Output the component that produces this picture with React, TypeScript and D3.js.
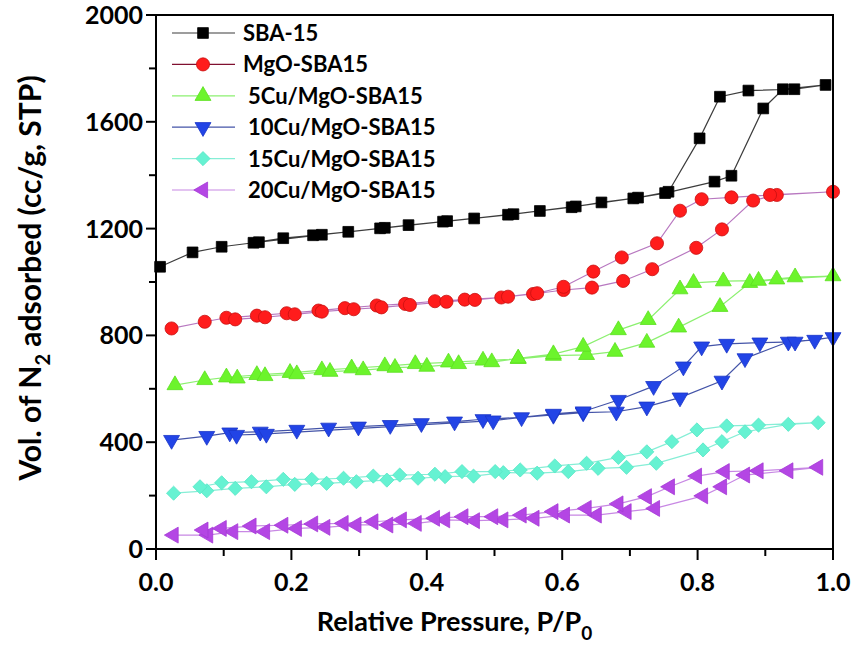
import * as d3 from 'd3';

// N2 adsorption / desorption isotherms.
// Each series: adsorption branch (rising P/P0) then desorption branch (falling P/P0).
const sba15: [number, number][] = [
  [0.006, 1057], [0.054, 1111], [0.097, 1132], [0.144, 1147], [0.188, 1164], [0.232, 1175],
  [0.284, 1188], [0.331, 1201], [0.373, 1213], [0.424, 1226], [0.47, 1238], [0.52, 1252],
  [0.567, 1266], [0.614, 1280], [0.658, 1298], [0.705, 1313], [0.752, 1333], [0.825, 1376],
  [0.85, 1398], [0.897, 1650], [0.926, 1722], [0.989, 1738],
  [0.943, 1722], [0.875, 1717], [0.833, 1694], [0.803, 1538], [0.757, 1338], [0.712, 1316],
  [0.62, 1283], [0.528, 1254], [0.43, 1228], [0.338, 1203], [0.245, 1177], [0.152, 1149],
];

const mgoSba15: [number, number][] = [
  [0.023, 826], [0.072, 851], [0.104, 866], [0.149, 874], [0.193, 883], [0.24, 893],
  [0.279, 902], [0.326, 912], [0.368, 918], [0.412, 928], [0.456, 934], [0.51, 942],
  [0.557, 955], [0.602, 970], [0.644, 979], [0.69, 1004], [0.733, 1048], [0.798, 1128],
  [0.836, 1197], [0.882, 1305], [0.917, 1326], [1.0, 1338],
  [0.907, 1326], [0.85, 1317], [0.806, 1310], [0.774, 1267], [0.74, 1145], [0.688, 1092],
  [0.646, 1039], [0.602, 982], [0.563, 958], [0.52, 945], [0.471, 933], [0.429, 926],
  [0.375, 914], [0.333, 905], [0.292, 898], [0.245, 889], [0.205, 879], [0.161, 868], [0.117, 860],
];

const cu5: [number, number][] = [
  [0.028, 614], [0.072, 633], [0.104, 643], [0.149, 652], [0.198, 660], [0.245, 670],
  [0.289, 677], [0.338, 685], [0.383, 693], [0.432, 699], [0.483, 706], [0.535, 712],
  [0.587, 724], [0.636, 727], [0.678, 739], [0.725, 773], [0.772, 830], [0.833, 907],
  [0.877, 997], [0.917, 1010], [1.0, 1022],
  [0.944, 1018], [0.89, 1005], [0.838, 1003], [0.794, 997], [0.774, 973], [0.727, 858],
  [0.683, 820], [0.631, 758], [0.587, 730], [0.535, 714], [0.496, 700], [0.447, 693],
  [0.4, 683], [0.353, 679], [0.306, 670], [0.257, 664], [0.208, 655], [0.161, 648], [0.12, 639],
];

const cu10: [number, number][] = [
  [0.023, 408], [0.075, 423], [0.109, 436], [0.154, 439], [0.208, 446], [0.255, 454],
  [0.299, 458], [0.346, 464], [0.392, 471], [0.441, 477], [0.483, 486], [0.54, 493],
  [0.587, 502], [0.631, 511], [0.68, 514], [0.725, 533], [0.774, 567], [0.836, 630],
  [0.87, 714], [0.934, 776], [0.973, 783], [1.0, 793],
  [0.944, 776], [0.892, 773], [0.843, 768], [0.806, 758], [0.779, 683], [0.735, 610],
  [0.683, 558], [0.631, 515], [0.587, 506], [0.498, 481], [0.163, 431], [0.119, 427],
];

const cu15: [number, number][] = [
  [0.026, 209], [0.075, 218], [0.117, 227], [0.163, 233], [0.205, 242], [0.252, 246],
  [0.296, 252], [0.341, 258], [0.387, 265], [0.427, 271], [0.469, 273], [0.513, 286],
  [0.563, 284], [0.609, 290], [0.653, 302], [0.695, 306], [0.739, 321], [0.808, 371],
  [0.836, 402], [0.87, 439], [0.934, 467], [0.978, 473],
  [0.89, 464], [0.843, 461], [0.799, 446], [0.762, 402], [0.725, 364], [0.683, 343],
  [0.636, 321], [0.589, 311], [0.538, 296], [0.501, 290], [0.452, 290], [0.412, 280],
  [0.36, 277], [0.321, 273], [0.277, 265], [0.23, 261], [0.188, 261], [0.141, 252],
  [0.097, 248], [0.065, 233],
];

const cu20: [number, number][] = [
  [0.026, 52], [0.077, 52], [0.114, 65], [0.161, 65], [0.208, 77], [0.25, 81],
  [0.296, 90], [0.343, 90], [0.385, 96], [0.427, 109], [0.471, 106], [0.513, 109],
  [0.559, 115], [0.604, 127], [0.651, 127], [0.695, 140], [0.737, 152], [0.808, 199],
  [0.836, 233], [0.87, 277], [0.934, 293], [0.978, 306],
  [0.89, 293], [0.84, 290], [0.799, 273], [0.759, 233], [0.725, 196], [0.683, 169],
  [0.636, 152], [0.587, 140], [0.54, 127], [0.498, 121], [0.454, 121], [0.412, 115],
  [0.363, 109], [0.321, 102], [0.277, 96], [0.232, 94], [0.188, 89], [0.141, 86],
  [0.097, 77], [0.07, 71],
];

const legendLabels = [
  'SBA-15', 'MgO-SBA15', '5Cu/MgO-SBA15', '10Cu/MgO-SBA15', '15Cu/MgO-SBA15', '20Cu/MgO-SBA15',
];

const xTicks = [0, 0.2, 0.4, 0.6, 0.8, 1.0];
const xMinorTicks = [0.1, 0.3, 0.5, 0.7, 0.9];
const yTicks = [0, 400, 800, 1200, 1600, 2000];
const yMinorTicks = [200, 600, 1000, 1400, 1800];

const series = [
  { data: sba15, shape: 'square', fill: '#000000', stroke: '#000000', line: '#3c3c3c' },
  { data: mgoSba15, shape: 'circle', fill: '#ff1c1c', stroke: '#c81010', line: '#b878c0' },
  { data: cu5, shape: 'up', fill: '#6cf42c', stroke: '#5ce020', line: '#8cf070' },
  { data: cu10, shape: 'down', fill: '#2244e6', stroke: '#1a36c8', line: '#4454a8' },
  { data: cu15, shape: 'diamond', fill: '#66f2d2', stroke: '#5ae6c6', line: '#86eed6' },
  { data: cu20, shape: 'left', fill: '#b446e4', stroke: '#a43ad6', line: '#c888e4' },
];

const width = 859;
const height = 667;
const plot = { left: 156, right: 833, top: 15, bottom: 549 };
const font = 'Lato, "Open Sans", sans-serif';

const xScale = d3.scaleLinear().domain([0, 1]).range([plot.left, plot.right]);
const yScale = d3.scaleLinear().domain([0, 2000]).range([plot.bottom, plot.top]);

const line = d3
  .line<[number, number]>()
  .x((d) => xScale(d[0]))
  .y((d) => yScale(d[1]));

const symbolPath = (shape: string) => {
  if (shape === 'square') return { d: d3.symbol(d3.symbolSquare, 115)() || '', rot: 0 };
  if (shape === 'circle') return { d: d3.symbol(d3.symbolCircle, 135)() || '', rot: 0 };
  if (shape === 'diamond') return { d: d3.symbol(d3.symbolSquare, 100)() || '', rot: 45 };
  const tri = d3.symbol(d3.symbolTriangle, 110)() || '';
  if (shape === 'down') return { d: tri, rot: 180 };
  if (shape === 'left') return { d: tri, rot: -90 };
  return { d: tri, rot: 0 };
};

export default function App() {
  return (
    <svg
      width={width}
      height={height}
      style={{ position: 'absolute', left: 0, top: 0, background: '#fff' }}
      fontFamily={font}
      fontWeight="bold"
    >
      {/* series lines */}
      {series.map((s, i) => (
        <path key={`l${i}`} d={line(s.data) || ''} fill="none" stroke={s.line} strokeWidth={1.2} />
      ))}
      {/* markers */}
      {series.map((s, i) => {
        const sym = symbolPath(s.shape);
        return (
          <g key={`m${i}`}>
            {s.data.map((d, j) => (
              <path
                key={j}
                d={sym.d}
                transform={`translate(${xScale(d[0])},${yScale(d[1])}) rotate(${sym.rot})`}
                fill={s.fill}
                stroke={s.stroke}
                strokeWidth={0.8}
              />
            ))}
          </g>
        );
      })}

      {/* frame */}
      <rect
        x={plot.left}
        y={plot.top}
        width={plot.right - plot.left}
        height={plot.bottom - plot.top}
        fill="none"
        stroke="#000"
        strokeWidth={2}
      />

      {/* x axis ticks */}
      {xTicks.map((t) => (
        <g key={`xt${t}`}>
          <line x1={xScale(t)} x2={xScale(t)} y1={plot.bottom} y2={plot.bottom + 11} stroke="#000" strokeWidth={2} />
          <text x={xScale(t)} y={plot.bottom + 42} textAnchor="middle" fontSize={25}>
            {t.toFixed(1)}
          </text>
        </g>
      ))}
      {xMinorTicks.map((t) => (
        <line key={`xm${t}`} x1={xScale(t)} x2={xScale(t)} y1={plot.bottom} y2={plot.bottom + 7} stroke="#000" strokeWidth={2} />
      ))}

      {/* y axis ticks */}
      {yTicks.map((t) => (
        <g key={`yt${t}`}>
          <line x1={plot.left - 10} x2={plot.left} y1={yScale(t)} y2={yScale(t)} stroke="#000" strokeWidth={2} />
          <text x={plot.left - 13} y={yScale(t) + 9} textAnchor="end" fontSize={25}>
            {t}
          </text>
        </g>
      ))}
      {yMinorTicks.map((t) => (
        <line key={`ym${t}`} x1={plot.left - 7} x2={plot.left} y1={yScale(t)} y2={yScale(t)} stroke="#000" strokeWidth={2} />
      ))}

      {/* axis titles */}
      <text x={(plot.left + plot.right) / 2 - 40} y={631} textAnchor="middle" fontSize={27}>
        Relative Pressure, P/P
        <tspan fontSize={19} dy={9}>0</tspan>
      </text>
      <text
        transform="translate(41,278) rotate(-90)"
        textAnchor="middle"
        fontSize={30}
      >
        Vol. of N
        <tspan fontSize={20} dy={9}>2</tspan>
        <tspan dy={-9}> adsorbed (cc/g, STP)</tspan>
      </text>

      {/* legend */}
      {series.map((s, i) => {
        const sym = symbolPath(s.shape);
        const y = 33 + i * 31.4;
        return (
          <g key={`lg${i}`}>
            <line x1={172} x2={235} y1={y} y2={y} stroke={i === 1 ? '#801030' : s.line} strokeWidth={1.2} />
            <path d={sym.d} transform={`translate(203,${y}) rotate(${sym.rot})`} fill={s.fill} stroke={s.stroke} strokeWidth={0.8} />
            <text x={i < 2 ? 243 : 248} y={y + 8} fontSize={22}>
              {legendLabels[i]}
            </text>
          </g>
        );
      })}
    </svg>
  );
}
